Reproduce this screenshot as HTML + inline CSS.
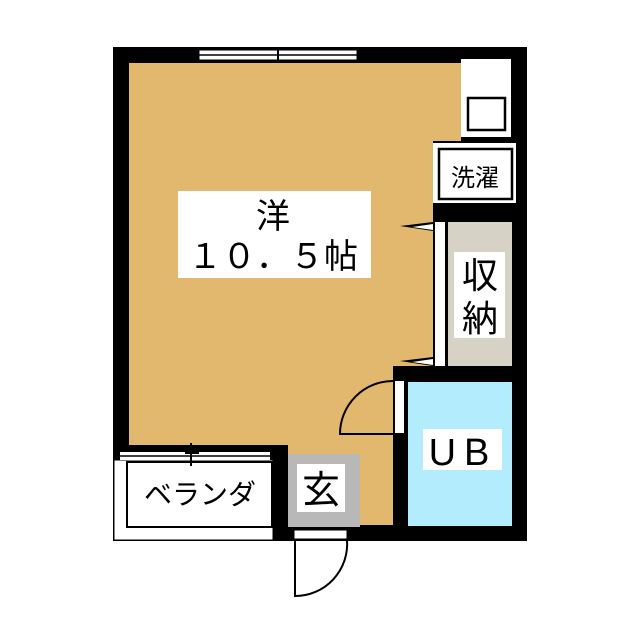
<!DOCTYPE html>
<html><head><meta charset="utf-8"><style>
html,body{margin:0;padding:0;background:#fff;width:640px;height:640px;overflow:hidden}
text{font-family:"Liberation Sans","Noto Sans CJK JP",sans-serif;fill:#000}
</style></head><body>
<svg width="640" height="640" viewBox="0 0 640 640" xmlns="http://www.w3.org/2000/svg">
<rect x="113" y="47" width="414" height="494" fill="#000"/>
<rect x="129" y="63" width="304" height="383" fill="#e2b76e"/>
<rect x="129" y="63" width="332" height="78" fill="#e2b76e"/>
<rect x="288" y="380" width="105" height="145" fill="#e2b76e"/>
<rect x="199" y="50" width="158" height="10" fill="#fff" stroke="#000" stroke-width="1"/>
<line x1="199" y1="55" x2="357" y2="55" stroke="#000" stroke-width="1.5"/>
<line x1="278" y1="47" x2="278" y2="63" stroke="#000" stroke-width="2"/>
<rect x="461" y="59" width="50" height="78" fill="#fff"/>
<rect x="468" y="98" width="37" height="32" fill="#fff" stroke="#000" stroke-width="2.5"/>
<line x1="512" y1="59" x2="512" y2="137" stroke="#000" stroke-width="1"/>
<rect x="433" y="143" width="83" height="60" fill="#fff"/>
<rect x="439" y="149" width="73" height="50" fill="#fff" stroke="#000" stroke-width="2.5"/>
<text x="475" y="186" font-size="24" text-anchor="middle">洗濯</text>
<rect x="433" y="203" width="94" height="177" fill="#000"/>
<rect x="435" y="222" width="10" height="144" fill="#fff"/>
<rect x="448" y="222" width="64" height="144" fill="#d6d3c6"/>
<rect x="454" y="252" width="51" height="86" fill="#fff"/>
<text x="480" y="288" font-size="36" text-anchor="middle">収</text>
<text x="480" y="331" font-size="36" text-anchor="middle">納</text>
<polygon points="400,226 433,222 433,231" fill="#000"/>
<polygon points="412,227 433,224 433,230" fill="#fff"/>
<polygon points="400,361 433,357 433,366" fill="#000"/>
<polygon points="412,362 433,359 433,365" fill="#fff"/>
<rect x="393" y="366" width="134" height="175" fill="#000"/>
<rect x="408" y="382" width="104" height="144" fill="#b3ecfc"/>
<rect x="395" y="381" width="9" height="52" fill="#fff"/>
<path d="M393,381 A53,53 0 0 0 340,434 L393,434" fill="none" stroke="#000" stroke-width="2"/>
<rect x="423" y="429" width="79" height="41" fill="#fff"/>
<text x="463" y="465" font-size="38" text-anchor="middle" letter-spacing="8">UB</text>
<rect x="178" y="191" width="193" height="87" fill="#fff"/>
<text x="273" y="228" font-size="34" text-anchor="middle">洋</text>
<text x="273" y="268" font-size="34" text-anchor="middle">１０．５帖</text>
<rect x="113" y="445" width="175" height="96" fill="#000"/>
<rect x="114" y="460" width="159" height="80" fill="#fff" stroke="#000" stroke-width="1"/>
<rect x="127" y="462" width="145" height="65" fill="#fff" stroke="#000" stroke-width="2"/>
<rect x="120" y="452" width="150" height="8" fill="#fff"/>
<line x1="120" y1="456" x2="270" y2="456" stroke="#000" stroke-width="1.5"/>
<line x1="191" y1="443" x2="191" y2="466" stroke="#000" stroke-width="2"/>
<line x1="185" y1="453" x2="199" y2="453" stroke="#000" stroke-width="2"/>
<text x="200" y="504" font-size="28" text-anchor="middle">ベランダ</text>
<rect x="288" y="454" width="72" height="73" fill="#b8b8b8"/>
<rect x="297" y="464" width="48" height="48" fill="#fff"/>
<text x="321" y="503" font-size="38" text-anchor="middle">玄</text>
<rect x="294" y="530" width="53" height="9" fill="#fff" stroke="#000" stroke-width="1"/>
<path d="M295,540 L295,596 A52,52 0 0 0 347,540" fill="none" stroke="#000" stroke-width="2"/>
</svg>
</body></html>
